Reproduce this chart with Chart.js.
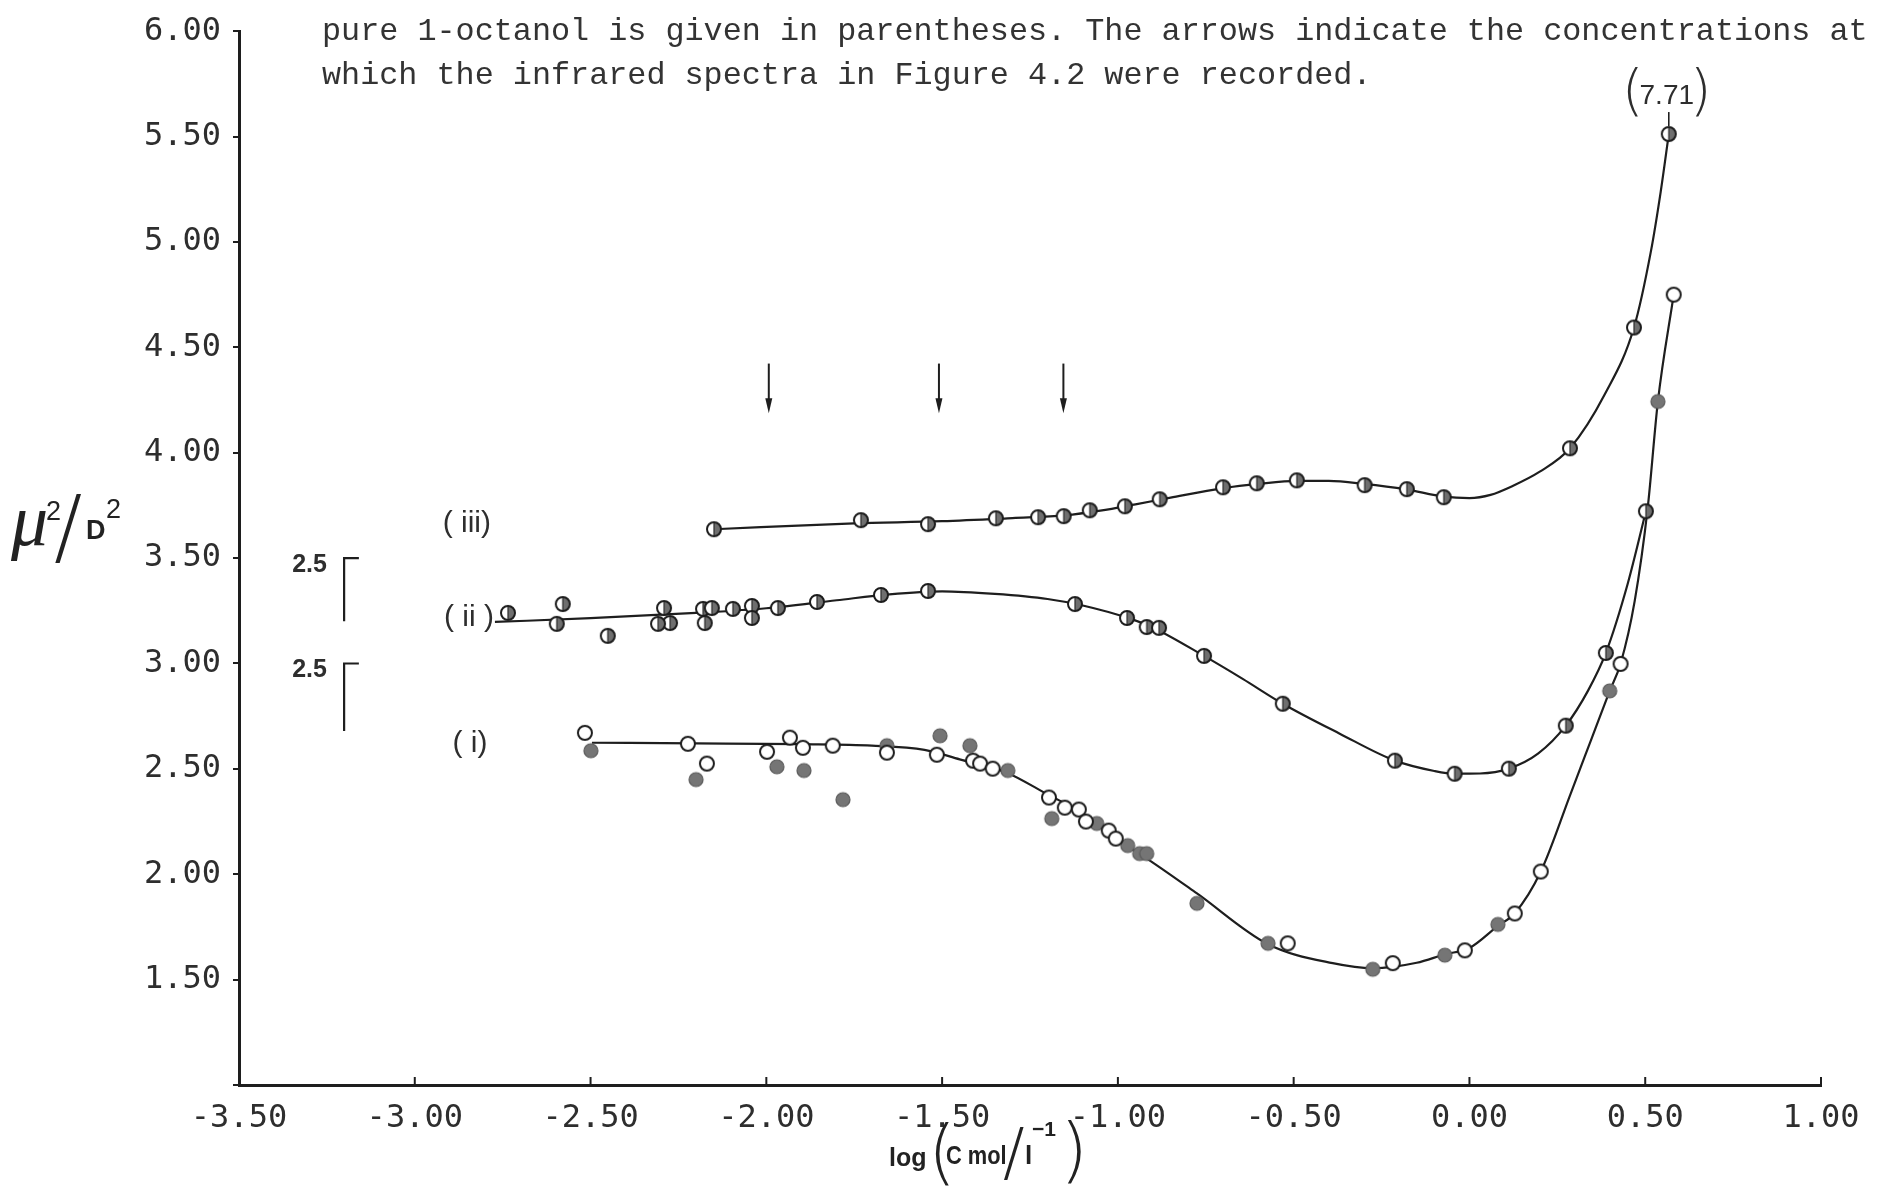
<!DOCTYPE html>
<html>
<head>
<meta charset="utf-8">
<script src="https://cdn.jsdelivr.net/npm/chart.js@4.4.1/dist/chart.umd.min.js"></script>
<style>
  html, body { margin: 0; padding: 0; background: #ffffff; }
  #wrap { width: 1878px; height: 1196px; position: relative; }
</style>
</head>
<body>
<div id="wrap"><canvas id="chart" width="1878" height="1196"></canvas></div>
<script>
// ---------- axis ticks ----------
const xTickValues = [-3.5, -3.0, -2.5, -2.0, -1.5, -1.0, -0.5, 0.0, 0.5, 1.0];
const yTickValues = [1.0, 1.5, 2.0, 2.5, 3.0, 3.5, 4.0, 4.5, 5.0, 5.5, 6.0];

// ---------- measured points ----------
// (iii) half-filled markers
const seriesIII_x = [-2.149, -1.731, -1.540, -1.347, -1.227, -1.154, -1.080, -0.980, -0.881, -0.701,
                     -0.605, -0.491, -0.298, -0.178, -0.073, 0.286, 0.468, 0.567];
const seriesIII_y = [3.637, 3.680, 3.661, 3.689, 3.694, 3.699, 3.727, 3.746, 3.779, 3.836,
                     3.855, 3.869, 3.846, 3.827, 3.789, 4.021, 4.594, 5.512];

// (ii) half-filled markers
const seriesII_x = [-2.735, -2.579, -2.596, -2.451, -2.291, -2.274, -2.308, -2.180, -2.155, -2.175,
                    -2.095, -2.041, -2.041, -1.967, -1.856, -1.674, -1.540, -1.122, -0.974, -0.918,
                    -0.883, -0.755, -0.531, -0.212, -0.042, 0.112, 0.274, 0.388, 0.502];
const seriesII_y = [3.240, 3.282, 3.188, 3.131, 3.263, 3.192, 3.188, 3.259, 3.263, 3.192,
                    3.259, 3.273, 3.216, 3.263, 3.292, 3.325, 3.344, 3.282, 3.216, 3.173,
                    3.169, 3.036, 2.809, 2.539, 2.477, 2.501, 2.705, 3.050, 3.722];

// (i) open markers
const seriesIopen_x = [-2.516, -2.223, -2.169, -1.998, -1.933, -1.896, -1.811, -1.657, -1.515, -1.412,
                       -1.392, -1.356, -1.196, -1.151, -1.111, -1.091, -1.026, -1.006, -0.517, -0.218,
                       -0.013, 0.129, 0.203, 0.430, 0.581];
const seriesIopen_y = [2.671, 2.619, 2.525, 2.581, 2.648, 2.600, 2.610, 2.577, 2.567, 2.539,
                       2.525, 2.501, 2.364, 2.316, 2.307, 2.250, 2.207, 2.169, 1.672, 1.578,
                       1.639, 1.814, 2.013, 2.998, 4.750];

// (i) filled markers
const seriesIfill_x = [-2.499, -2.200, -1.970, -1.893, -1.782, -1.657, -1.506, -1.421, -1.313, -1.188,
                       -1.060, -0.972, -0.938, -0.918, -0.775, -0.573, -0.275, -0.070, 0.081, 0.399, 0.536];
const seriesIfill_y = [2.586, 2.449, 2.510, 2.492, 2.354, 2.610, 2.657, 2.610, 2.492, 2.264,
                       2.241, 2.136, 2.098, 2.098, 1.862, 1.672, 1.549, 1.616, 1.762, 2.870, 4.243];

// ---------- fitted curves (knots of the smooth lines) ----------
const curveIII_x = [-2.149, -1.75, -1.5, -1.3, -1.15, -1.05, -0.95, -0.85, -0.7, -0.6, -0.49, -0.4,
                    -0.3, -0.18, -0.073, 0.0, 0.06, 0.12, 0.2, 0.286, 0.385, 0.468, 0.516, 0.544, 0.567];
const curveIII_y = [3.637, 3.665, 3.675, 3.690, 3.703, 3.725, 3.755, 3.787, 3.832, 3.852, 3.866, 3.866,
                    3.852, 3.826, 3.792, 3.785, 3.800, 3.840, 3.910, 4.021, 4.277, 4.594, 4.954, 5.238, 5.512];

const curveII_x = [-2.772, -2.5, -2.2, -2.0, -1.8, -1.65, -1.5, -1.35, -1.2, -1.1, -0.97, -0.9,
                   -0.755, -0.645, -0.531, -0.369, -0.212, -0.1, -0.042, 0.03, 0.112, 0.195, 0.274,
                   0.337, 0.388, 0.45, 0.502];
const curveII_y = [3.197, 3.215, 3.240, 3.262, 3.300, 3.328, 3.342, 3.330, 3.306, 3.275, 3.215, 3.170,
                   3.036, 2.927, 2.809, 2.667, 2.539, 2.490, 2.477, 2.478, 2.501, 2.572, 2.705,
                   2.870, 3.050, 3.377, 3.722];

const curveI_x = [-2.496, -2.2, -1.9, -1.7, -1.55, -1.45, -1.316, -1.196, -1.111, -1.006, -0.909,
                  -0.775, -0.573, -0.389, -0.275, -0.15, -0.07, 0.0, 0.081, 0.129, 0.203, 0.288,
                  0.345, 0.399, 0.43, 0.47, 0.507, 0.536, 0.581];
const curveI_y = [2.624, 2.621, 2.617, 2.610, 2.590, 2.545, 2.482, 2.375, 2.300, 2.169, 2.065,
                  1.909, 1.668, 1.578, 1.554, 1.580, 1.620, 1.650, 1.755, 1.815, 2.013, 2.383,
                  2.633, 2.870, 3.000, 3.296, 3.737, 4.243, 4.750];

// ---------- annotations ----------
const curveLabels = ['( iii)', '( ii )', '( i)'];
const curveLabelX = [-2.852, -2.846, -2.843];
const curveLabelY = [3.661, 3.216, 2.619];

const arrowX = [-1.993, -1.509, -1.155];
const arrowTop = 4.423;
const arrowTip = 4.187;

const scaleBarText = ['2.5', '2.5'];
const scaleBarTop = [3.50, 3.00];
const scaleBarBottom = [3.20, 2.68];
const scaleBarX = -3.201;
const scaleBarCapX = -3.159;
const scaleBarTextX = -3.250;

const pureValueText = '7.71';

const captionLines = [
  'pure 1-octanol is given in parentheses. The arrows indicate the concentrations at',
  'which the infrared spectra in Figure 4.2 were recorded.'
];

// ---------- helpers ----------
const pts = (xs, ys) => xs.map((x, i) => ({ x: x, y: ys[i] }));

function marker(kind) {
  const s = 20, m = s / 2, r = 7;
  const c = document.createElement('canvas');
  c.width = s; c.height = s;
  const g = c.getContext('2d');
  g.beginPath(); g.arc(m, m, r, 0, Math.PI * 2);
  if (kind === 'filled') {
    g.fillStyle = '#757575'; g.fill();
    g.lineWidth = 1.2; g.strokeStyle = '#5a5a5a'; g.stroke();
    return c;
  }
  g.fillStyle = '#ffffff'; g.fill();
  if (kind === 'half') {
    g.beginPath(); g.arc(m, m, r, -Math.PI / 2, Math.PI / 2); g.closePath();
    g.fillStyle = '#6f6f6f'; g.fill();
    g.beginPath(); g.moveTo(m, m - r); g.lineTo(m, m + r);
    g.lineWidth = 1.2; g.strokeStyle = '#2a2a2a'; g.stroke();
  }
  g.beginPath(); g.arc(m, m, r, 0, Math.PI * 2);
  g.lineWidth = 2; g.strokeStyle = '#1c1c1c'; g.stroke();
  return c;
}

// text drawn horizontally condensed
function narrowText(ctx, text, x, y, font, squeeze) {
  ctx.save();
  ctx.translate(x, y);
  ctx.scale(squeeze, 1);
  ctx.font = font;
  ctx.fillText(text, 0, 0);
  ctx.restore();
}

const INK = '#1e1e1e';
const TEXT = '#2e2e2e';
const SANS = '"Liberation Sans", Arial, sans-serif';
const THIN = '"DejaVu Sans", sans-serif';

// ---------- drawing of non-series elements ----------
const annotations = {
  id: 'annotations',
  beforeDraw(chart) {
    const { ctx, width, height } = chart;
    ctx.save();
    ctx.fillStyle = '#ffffff';
    ctx.fillRect(0, 0, width, height);
    ctx.restore();
  },
  afterDraw(chart) {
    const { ctx } = chart;
    const xs = chart.scales.x, ys = chart.scales.y;
    ctx.save();

    // inward tick marks on the concentration axis
    ctx.strokeStyle = INK; ctx.lineWidth = 2;
    xTickValues.slice(1).forEach(v => {
      const px = xs.getPixelForValue(v);
      ctx.beginPath(); ctx.moveTo(px, ys.bottom); ctx.lineTo(px, ys.bottom - 8); ctx.stroke();
    });

    // arrows marking the concentrations of the IR spectra
    arrowX.forEach(v => {
      const px = xs.getPixelForValue(v);
      const t = ys.getPixelForValue(arrowTop), b = ys.getPixelForValue(arrowTip);
      ctx.beginPath(); ctx.moveTo(px, t); ctx.lineTo(px, b - 10);
      ctx.lineWidth = 2; ctx.strokeStyle = INK; ctx.stroke();
      ctx.beginPath(); ctx.moveTo(px - 3.5, b - 15); ctx.lineTo(px + 3.5, b - 15); ctx.lineTo(px, b);
      ctx.closePath(); ctx.fillStyle = INK; ctx.fill();
    });

    // curve labels
    ctx.fillStyle = TEXT;
    ctx.font = '30px ' + SANS;
    ctx.textAlign = 'center'; ctx.textBaseline = 'middle';
    curveLabels.forEach((t, i) => {
      ctx.fillText(t, xs.getPixelForValue(curveLabelX[i]), ys.getPixelForValue(curveLabelY[i]));
    });

    // 2.5 scale bars
    scaleBarText.forEach((t, i) => {
      const bx = xs.getPixelForValue(scaleBarX), cx = xs.getPixelForValue(scaleBarCapX);
      const top = ys.getPixelForValue(scaleBarTop[i]), bot = ys.getPixelForValue(scaleBarBottom[i]);
      ctx.beginPath(); ctx.moveTo(cx, top); ctx.lineTo(bx, top); ctx.lineTo(bx, bot);
      ctx.lineWidth = 2.2; ctx.strokeStyle = INK; ctx.stroke();
      ctx.font = 'bold 25px ' + SANS;
      ctx.textAlign = 'right'; ctx.textBaseline = 'middle';
      ctx.fillStyle = TEXT;
      ctx.fillText(t, xs.getPixelForValue(scaleBarTextX), top + 7);
    });

    // value for pure 1-octanol above the last (iii) point
    {
      const px = xs.getPixelForValue(seriesIII_x[seriesIII_x.length - 1]);
      const py = ys.getPixelForValue(seriesIII_y[seriesIII_y.length - 1]);
      ctx.beginPath(); ctx.moveTo(px, py - 8); ctx.lineTo(px, py - 22);
      ctx.lineWidth = 1.6; ctx.strokeStyle = INK; ctx.stroke();
      ctx.fillStyle = TEXT; ctx.textAlign = 'center'; ctx.textBaseline = 'middle';
      ctx.font = '28px ' + SANS;
      ctx.fillText(pureValueText, px - 2, py - 38);
      ctx.font = '200 56px ' + THIN;
      ctx.fillText('(', px - 36, py - 40);
      ctx.fillText(')', px + 32, py - 40);
    }

    // caption lines at the top
    ctx.textAlign = 'left'; ctx.textBaseline = 'alphabetic';
    ctx.fillStyle = '#333333';
    ctx.font = '31.8px "Liberation Mono", "DejaVu Sans Mono", monospace';
    ctx.fillText(captionLines[0], 322, 40);
    ctx.fillText(captionLines[1], 322, 84);

    // y title  mu^2 / D^2
    ctx.fillStyle = '#222222';
    ctx.font = 'italic 74px "Liberation Serif", serif';
    ctx.fillText('μ', 11, 545);
    ctx.font = '27px ' + SANS;
    ctx.fillText('2', 46, 520);
    ctx.font = '200 84px ' + THIN;
    ctx.fillText('/', 54, 555);
    ctx.font = 'bold 27px ' + SANS;
    ctx.fillText('D', 86, 539);
    ctx.font = '27px ' + SANS;
    ctx.fillText('2', 106, 518);

    // x title  log (C mol/l^-1)
    ctx.font = 'bold 25px ' + SANS;
    ctx.fillText('log', 889, 1166);
    ctx.font = '200 72px ' + THIN;
    ctx.fillText('(', 928, 1176);
    narrowText(ctx, 'C mol', 946, 1164, 'bold 26px ' + SANS, 0.84);
    ctx.font = '200 64px ' + THIN;
    ctx.fillText('/', 1003, 1174);
    ctx.font = 'bold 26px ' + SANS;
    ctx.fillText('l', 1025, 1164);
    ctx.font = 'bold 21px ' + SANS;
    ctx.fillText('−1', 1032, 1136);
    ctx.font = '200 72px ' + THIN;
    ctx.fillText(')', 1060, 1174);

    ctx.restore();
  }
};

// ---------- chart ----------
const tickFont = { family: '"DejaVu Sans Mono", "Liberation Mono", monospace', size: 32 };

const pointSet = (label, data, kind) => ({
  label, data, showLine: false,
  pointStyle: marker(kind), pointRadius: 7, pointHoverRadius: 7, order: 1
});
const curveSet = (label, data) => ({
  label, data, showLine: true, borderColor: INK, borderWidth: 2.2,
  pointRadius: 0, pointHoverRadius: 0, fill: false,
  cubicInterpolationMode: 'monotone', order: 2
});

new Chart(document.getElementById('chart'), {
  type: 'line',
  data: {
    datasets: [
      pointSet('(iii)', pts(seriesIII_x, seriesIII_y), 'half'),
      pointSet('(ii)', pts(seriesII_x, seriesII_y), 'half'),
      pointSet('(i) open', pts(seriesIopen_x, seriesIopen_y), 'open'),
      pointSet('(i) filled', pts(seriesIfill_x, seriesIfill_y), 'filled'),
      curveSet('(iii) fit', pts(curveIII_x, curveIII_y)),
      curveSet('(ii) fit', pts(curveII_x, curveII_y)),
      curveSet('(i) fit', pts(curveI_x, curveI_y))
    ]
  },
  options: {
    responsive: false,
    animation: false,
    devicePixelRatio: 1,
    events: [],
    layout: { padding: { top: 29, right: 57, left: 0, bottom: 0 } },
    plugins: { legend: { display: false }, tooltip: { enabled: false } },
    scales: {
      x: {
        type: 'linear', min: -3.5, max: 1.0,
        afterFit: s => { s.height = 111; },
        afterBuildTicks: s => { s.ticks = xTickValues.map(v => ({ value: v })); },
        border: { display: true, color: INK, width: 3 },
        grid: { display: true, drawOnChartArea: false, drawTicks: false },
        ticks: {
          padding: 14, color: TEXT, font: tickFont, autoSkip: false, maxRotation: 0,
          callback: v => v.toFixed(2)
        }
      },
      y: {
        type: 'linear', min: 1.0, max: 6.0,
        afterFit: s => { s.width = 239; },
        afterBuildTicks: s => { s.ticks = yTickValues.map(v => ({ value: v })); },
        border: { display: true, color: INK, width: 3 },
        grid: { display: true, drawOnChartArea: false, drawTicks: true, tickLength: 6, color: INK, lineWidth: 2 },
        ticks: {
          padding: 12, color: TEXT, font: tickFont, autoSkip: false,
          callback: v => (v >= 1.5 ? v.toFixed(2) : '')
        }
      }
    }
  },
  plugins: [annotations]
});
</script>
</body>
</html>
